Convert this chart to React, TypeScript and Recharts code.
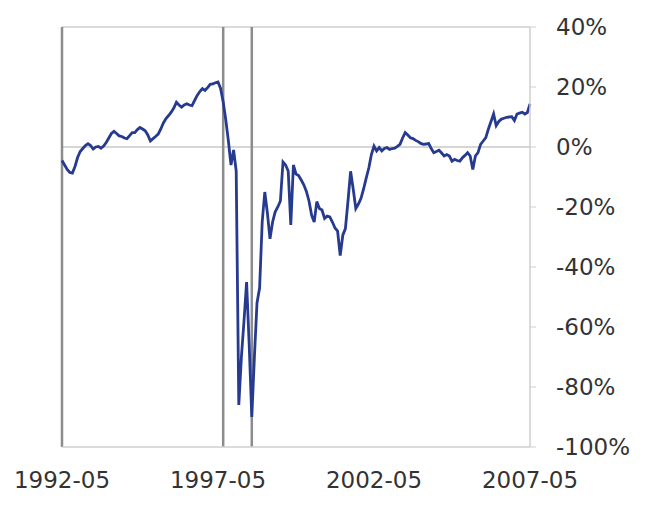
import { LineChart, Line, XAxis, YAxis, ReferenceLine } from "recharts";

// monthly % change, 1992-05 .. 2007-05
const values: number[] = [
  -4.5, -6, -7.5, -8.5, -8.7, -6.5, -3.5, -1.5, -0.5, 0.5,
  1.1, 0.5, -0.7, 0, 0.2, -0.4, 0.3, 1.5, 3, 4.5,
  5.2, 4.5, 3.7, 3.5, 3.0, 2.8, 3.8, 4.8, 4.8, 5.8,
  6.5, 6, 5.4, 4, 2.0, 2.8, 3.5, 4.3, 6, 8,
  9.5, 10.5, 11.6, 13, 14.9, 14, 13.3, 14, 14.4, 14,
  13.8, 15.5, 17.2, 18.5, 19.5, 18.9, 19.8, 20.9, 21, 21.4,
  21.7, 19.5, 15, 9, 2, -6, -1, -8, -86, -70,
  -58, -45, -66, -90, -70, -52, -47, -25, -15, -22,
  -30.6, -25, -21.6, -20, -18, -5, -6, -8, -26, -6,
  -9, -9.5, -11, -12.6, -14.8, -18, -22.7, -25, -18.2, -20.5,
  -21, -23.8, -23, -23.3, -25, -27, -28, -36.2, -29.4, -27.2,
  -18, -8.1, -14, -20.5, -19, -17.1, -14, -10.4, -7, -2.5,
  0.3, -1.3, -0.2, -1.3, -0.5, -0.2, -0.8, -0.5, -0.4, 0.2,
  0.9, 3, 4.8, 4, 3.1, 2.8, 2.2, 1.8, 1.2, 0.9,
  1, 1.2, -0.5, -1.9, -1.5, -1.1, -2, -3, -2.5, -3,
  -4.7, -4.1, -4.5, -4.7, -3.6, -2.8, -1.9, -3, -7.5, -3,
  -1.9, 0.9, 2, 3.1, 6, 8.5, 11, 7.1, 8.5, 9.3,
  9.6, 9.9, 10, 10.1, 8.8, 11, 11.3, 11.6, 11, 11.5,
  14.4,
];

const months: string[] = values.map((_, i) => {
  const m = 4 + i;
  const y = 1992 + Math.floor(m / 12);
  const mm = (m % 12) + 1;
  return `${y}-${mm < 10 ? "0" : ""}${mm}`;
});

const xTicks = ["1992-05", "1997-05", "2002-05", "2007-05"];
const yTicks = [-100, -80, -60, -40, -20, 0, 20, 40];
const markers = ["1992-05", "1997-07", "1998-06"];

const data = months.map((month, i) => ({ month, value: values[i] }));

const tickStyle = { fontFamily: "DejaVu Sans", fontSize: 23, fill: "#333" };

export default function App() {
  return (
    <LineChart width={637} height={499} data={data} margin={{ top: 19, right: 10, bottom: 0, left: 54 }}>
      <XAxis
        dataKey="month"
        ticks={xTicks}
        interval={0}
        tickLine={false}
        tickSize={0}
        tickMargin={25}
        axisLine={{ stroke: "#cfcfcf", strokeWidth: 1.5 }}
        tick={tickStyle}
        height={60}
      />
      <YAxis
        orientation="right"
        domain={[-100, 40]}
        ticks={yTicks}
        tickFormatter={(v: number) => `${v}%`}
        tickSize={6}
        tickMargin={20}
        tickLine={{ stroke: "#cfcfcf" }}
        axisLine={{ stroke: "#cfcfcf", strokeWidth: 1.5 }}
        tick={{ ...tickStyle, textAnchor: "start" }}
        width={105}
      />
      <ReferenceLine y={40} stroke="#cfcfcf" strokeWidth={1.5} />
      <ReferenceLine y={0} stroke="#c8c8c8" strokeWidth={1.5} />
      {markers.map((m) => (
        <ReferenceLine key={m} x={m} stroke="#8c8c8c" strokeWidth={2.5} />
      ))}
      <Line
        type="linear"
        dataKey="value"
        stroke="#263a90"
        strokeWidth={2.8}
        dot={false}
        isAnimationActive={false}
      />
    </LineChart>
  );
}
